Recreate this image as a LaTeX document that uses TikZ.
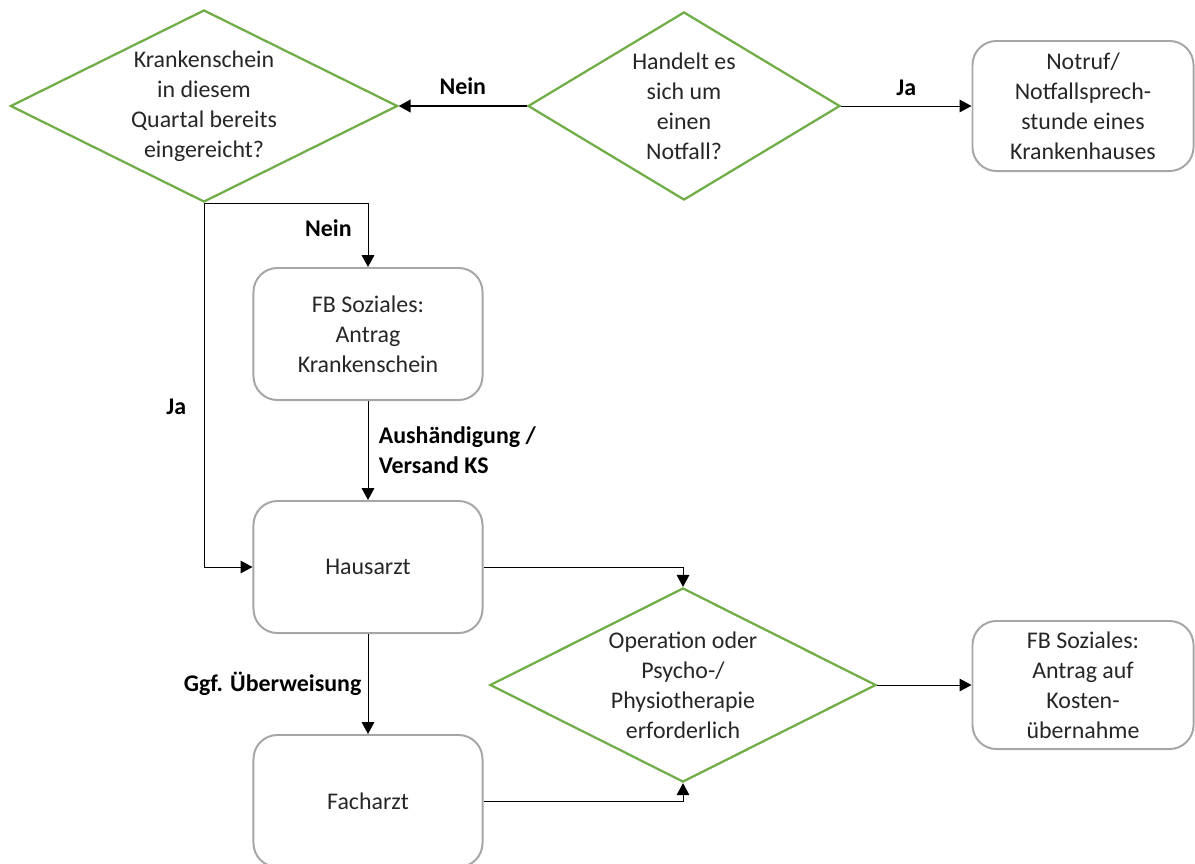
\documentclass[tikz,border=0pt]{standalone}
\usepackage{fontspec}
\setmainfont{Carlito}
\usepackage{tikz}
\usetikzlibrary{shapes.geometric, arrows.meta, positioning}

\definecolor{decgreen}{HTML}{70AD47}
\definecolor{boxgray}{HTML}{A6A6A6}
\definecolor{txtgray}{HTML}{262626}

\newcommand{\flowfont}{\fontsize{17}{21.3}\selectfont}
\newcommand{\lblfont}{\fontsize{17}{21.3}\selectfont\bfseries}

\tikzset{
	decision/.style={diamond, aspect=2, draw=decgreen, line width=1.6pt, inner sep=0pt, align=center, font=\flowfont, text=txtgray},
	process/.style={rectangle, rounded corners=0.6cm, draw=boxgray, line width=1.4pt, minimum width=5.725cm, minimum height=3.3cm, align=center, font=\flowfont, text=txtgray},
	flow/.style={-{Triangle[length=8.5pt, width=9pt]}, line width=0.7pt},
	lbl/.style={font=\lblfont, text=black, align=left},
}

\begin{document}
\begin{tikzpicture}[x=0.025cm, y=-0.025cm]
	
	%// frame of the whole chart
	\useasboundingbox (0,0) rectangle (1195,863);
	
	%// decisions
	\node [decision, minimum width=9.675cm, minimum height=4.8cm] (krank) at (204,106) {Krankenschein\\in diesem\\Quartal bereits\\eingereicht?};
	\node [decision, aspect=1.66, minimum width=7.8cm, minimum height=4.7cm] (notfall) at (684,106) {Handelt es\\sich um\\einen\\Notfall?};
	\node [decision, minimum width=9.65cm, minimum height=4.85cm] (operation) at (683,685) {Operation oder\\Psycho-/\\Physiotherapie\\erforderlich};
	
	%// processes
	\node [process, minimum width=5.525cm, minimum height=3.25cm] (notruf) at (1083,106) {Notruf/\\Notfallsprech-\\stunde eines\\Krankenhauses};
	\node [process] (antragKS) at (368,334) {FB Soziales:\\Antrag\\Krankenschein};
	\node [process] (hausarzt) at (368,567) {Hausarzt};
	\node [process] (facharzt) at (368,801) {Facharzt};
	\node [process, minimum width=5.525cm, minimum height=3.2cm] (antragKU) at (1083,685) {FB Soziales:\\Antrag auf\\Kosten-\\übernahme};
	
	%// connectors
	\draw [flow, line width=1.4pt] (notfall.west) -- node [lbl, above=4pt] {Nein} (krank.east);
	\draw [flow] (notfall.east) -- node [lbl, above=4pt] {Ja} (notruf.west);
	\draw [flow] (krank.south) -| node [lbl, pos=0.7, left=8pt] {Nein} (antragKS.north);
	\draw [flow] (krank.south) |- node [lbl, pos=0.28, left=9pt] {Ja} (hausarzt.west);
	\draw [flow] (antragKS) -- node [lbl, right=4pt] {Aushändigung /\\Versand KS} (hausarzt);
	\draw [flow] (hausarzt) -- node [lbl, left=1pt] {Ggf. Überweisung} (facharzt);
	\draw [flow] (hausarzt.east) -| (operation.north);
	\draw [flow] (facharzt.east) -| (operation.south);
	\draw [flow] (operation.east) -- (antragKU.west);
	
\end{tikzpicture}
\end{document}
